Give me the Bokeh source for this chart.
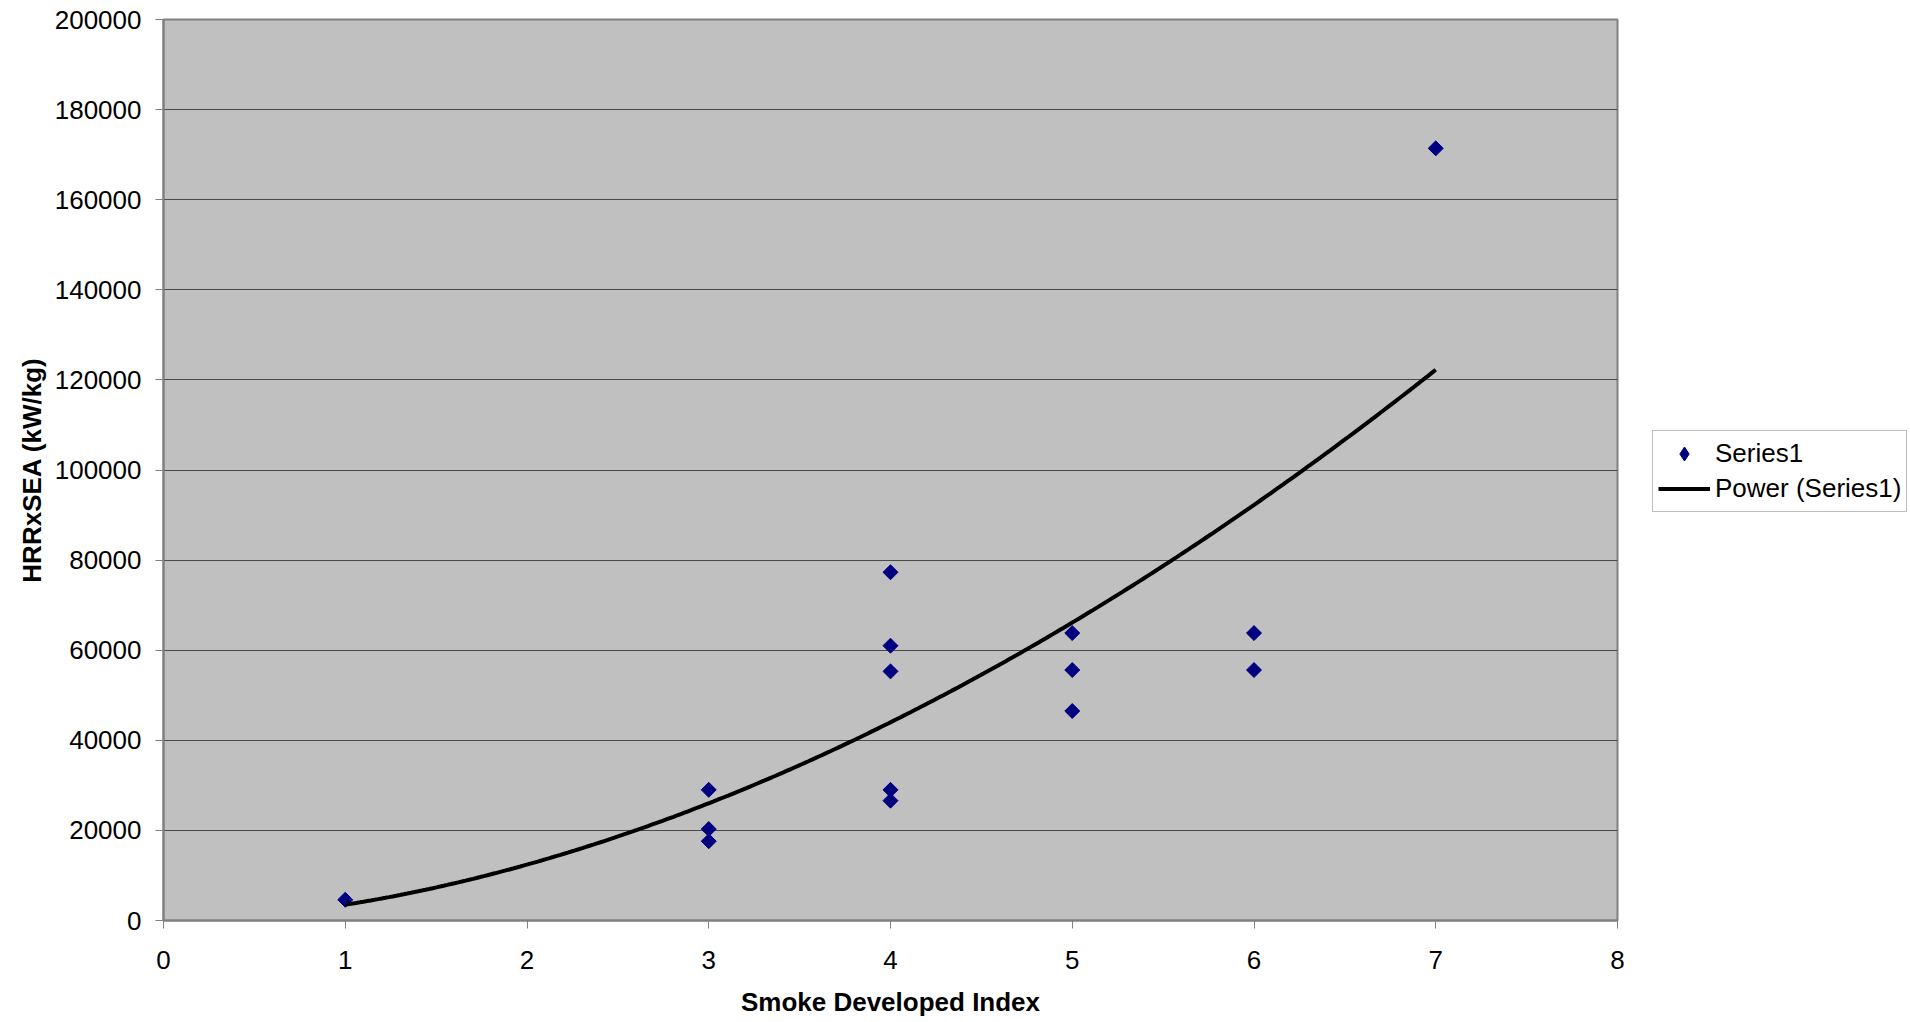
import numpy as np
from bokeh.plotting import figure
from bokeh.layouts import row
from bokeh.models import Range1d, FixedTicker, BasicTickFormatter, Legend, LegendItem
from bokeh.embed import file_html
from bokeh.resources import INLINE

# ---- data ----
sdi = [1, 3, 3, 3, 4, 4, 4, 4, 4, 5, 5, 5, 6, 6, 7]
hrr_sea = [4600, 29000, 20300, 17600, 77300, 61000, 55300, 29000, 26600,
           63800, 55600, 46500, 63800, 55600, 171400]
x_ticks = [0, 1, 2, 3, 4, 5, 6, 7, 8]
y_ticks = [0, 20000, 40000, 60000, 80000, 100000, 120000, 140000, 160000, 180000, 200000]
x_title = "Smoke Developed Index"
y_title = "HRRxSEA (kW/kg)"
series_name = "Series1"
trend_name = "Power (Series1)"
# power trendline y = a * x^b (coefficients)
trend_a = 3500.0
trend_b = 1.826
trend_span = [1, 7]

FONT = "Liberation Sans"
NAVY = "#000080"

p = figure(width=1629, height=1022,
           x_range=Range1d(0, 8), y_range=Range1d(0, 200000),
           output_backend="svg", toolbar_location=None,
           min_border_left=163, min_border_right=12,
           min_border_top=19, min_border_bottom=102,
           background_fill_color="#C0C0C0", border_fill_color="white")

p.outline_line_color = "#808080"
p.outline_line_width = 2

p.xgrid.visible = False
p.ygrid.grid_line_color = "#4a4a4a"
p.ygrid.grid_line_width = 1

p.xaxis.ticker = FixedTicker(ticks=x_ticks)
p.yaxis.ticker = FixedTicker(ticks=y_ticks)
p.yaxis.formatter = BasicTickFormatter(use_scientific=False)

for ax in (p.xaxis[0], p.yaxis[0]):
    ax.axis_line_color = "#808080"
    ax.axis_line_width = 2
    ax.major_tick_line_color = "#808080"
    ax.major_tick_line_width = 1
    ax.major_tick_out = 8
    ax.major_tick_in = 0
    ax.minor_tick_line_color = None
    ax.major_label_text_font = FONT
    ax.major_label_text_font_size = "26px"
    ax.major_label_text_color = "black"
    ax.axis_label_text_font = FONT
    ax.axis_label_text_font_size = "26px"
    ax.axis_label_text_font_style = "bold"
    ax.axis_label_text_color = "black"

p.xaxis.axis_label = x_title
p.yaxis.axis_label = y_title
p.xaxis.major_label_standoff = 22
p.yaxis.major_label_standoff = 14
p.xaxis.axis_label_standoff = 15
p.yaxis.axis_label_standoff = 5

xs = np.linspace(trend_span[0], trend_span[1], 300)
ys = trend_a * xs ** trend_b

p.scatter(sdi, hrr_sea, marker="square", size=10.6, angle=np.pi / 4,
          fill_color=NAVY, line_color=NAVY)
p.line(xs, ys, line_color="black", line_width=4)

# ---- legend panel to the right of the plot area ----
# (same series drawn again, but outside this panel's visible ranges, so only
#  their legend entries show)
p2 = figure(width=281, height=1022, x_range=Range1d(0, 1), y_range=Range1d(0, 1),
            x_axis_type=None, y_axis_type=None, toolbar_location=None,
            output_backend="svg", min_border=0,
            background_fill_color="white", border_fill_color="white",
            outline_line_color=None)
p2.xgrid.visible = False
p2.ygrid.visible = False
leg_pts = p2.scatter(sdi, hrr_sea, marker="diamond", size=14,
                     fill_color=NAVY, line_color=NAVY)
leg_ln = p2.line(xs, ys, line_color="black", line_width=4)

legend = Legend(items=[LegendItem(label=series_name, renderers=[leg_pts]),
                       LegendItem(label=trend_name, renderers=[leg_ln])],
                location=(23, 408), margin=0, padding=5, spacing=0,
                glyph_width=52, glyph_height=35, label_height=30,
                label_standoff=5,
                label_text_font=FONT, label_text_font_size="26px",
                label_text_color="black",
                border_line_color="#808080", border_line_width=1,
                background_fill_color="white", background_fill_alpha=1)
p2.add_layout(legend, "center")

layout = row(p, p2, spacing=0)
open("out.html", "w").write(file_html(layout, INLINE))
